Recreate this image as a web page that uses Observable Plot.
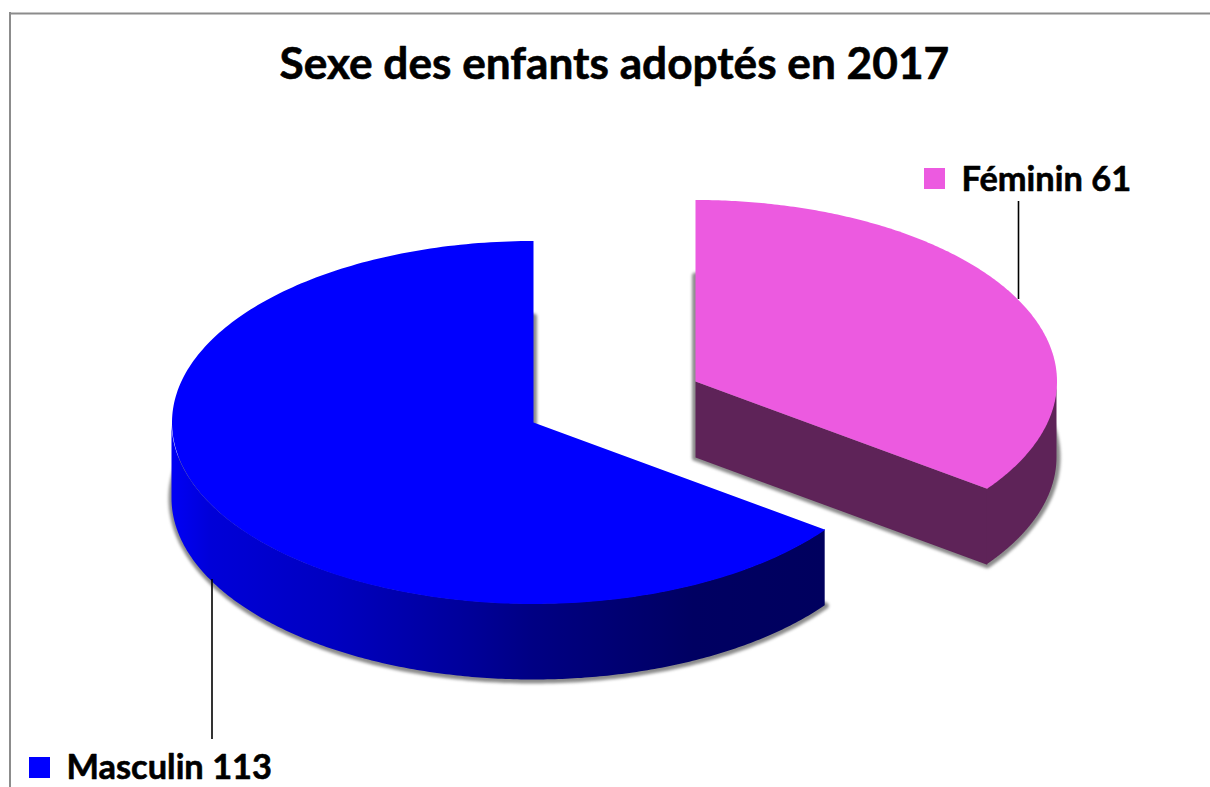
<!DOCTYPE html>
<html>
<head>
<meta charset="utf-8">
<style>
html,body{margin:0;padding:0;background:#fff;overflow:hidden}
svg{display:block}
</style>
<script src="https://cdn.jsdelivr.net/npm/d3@7"></script>
<script src="https://cdn.jsdelivr.net/npm/@observablehq/plot@0.6"></script>
</head>
<body>
<div id="chart"></div>
<script>
// Data
const categories = ["Féminin", "Masculin"];
const counts = [61, 113];
const chartTitle = "Sexe des enfants adoptés en 2017";

// Styles and layout
const W = 1210, H = 787;
const FONT = "Lato, 'Noto Sans', sans-serif";
const RX = 361.5, RY = 181.5, DEPTH = 76;
const pink = "#ec5ae0", purple = "#5e2358", blue = "#0000ff";
const centres = {"Féminin": [695, 381], "Masculin": [533, 422]};

const total = d3.sum(counts);
const split = 2 * Math.PI * counts[0] / total;
const at = ([cx, cy], a, dy = 0) => ({x: cx + RX * Math.sin(a), y: cy - RY * Math.cos(a) + dy});
const sweep = (a0, a1, n = 240) => d3.range(n + 1).map(i => a0 + (a1 - a0) * i / n);
const wedge = (c, a0, a1, dy = 0) => [{x: c[0], y: c[1] + dy}, ...sweep(a0, a1).map(a => at(c, a, dy)), {x: c[0], y: c[1] + dy}];
const wall = (c, a0, a1) => sweep(a0, a1).map(a => {
  const p = at(c, a);
  return {x: p.x, y1: p.y, y2: p.y + DEPTH};
});

const cF = centres["Féminin"], cM = centres["Masculin"];
const edgeF = at(cF, split);

const gradientStops = [[0, "#0000f5"], [0.06, "#0000d8"], [0.25, "#0000c0"], [0.45, "#00009a"], [0.55, "#000084"], [0.8, "#000062"], [1, "#00005e"]];
const defs = () => {
  const d = d3.create("svg:defs");
  const g = d.append("linearGradient").attr("id", "wallBlue").attr("x1", 0).attr("x2", 1).attr("y1", 0).attr("y2", 0);
  gradientStops.forEach(([o, c]) => g.append("stop").attr("offset", o).attr("stop-color", c));
  return d.node();
};

const shadow = (c, a0, a1) => Plot.line(wedge(c, a0, a1, DEPTH), {
  x: "x", y: "y", fill: "#8c8c8c", stroke: "#8c8c8c", strokeWidth: 7, strokeOpacity: 1, fillOpacity: 1,
  strokeLinejoin: "round", imageFilter: "blur(1.6px)"
});
const label = (text, dx, dy, fontSize) => Plot.text([text], {
  text: d => d, frameAnchor: "top-left", dx, dy, fontSize, fontWeight: 700, fontFamily: FONT,
  fill: "#000", stroke: "#000", strokeWidth: 0.6, lineAnchor: "top"
});

const chart = Plot.plot({
  width: W, height: H, margin: 0,
  x: {domain: [0, W], range: [0, W], axis: null},
  y: {domain: [0, H], range: [0, H], axis: null},
  style: {background: "#fff"},
  marks: [
    defs,
    // outer frame
    Plot.ruleX([9.5], {y1: 12, y2: H, stroke: "#8c8c8c", strokeWidth: 2}),
    Plot.ruleY([13], {x1: 9, x2: W, stroke: "#8c8c8c", strokeWidth: 2}),
    // soft shadows under the extruded slices
    shadow(cM, split, 2 * Math.PI),
    shadow(cF, 0, split),
    // Masculin slice
    Plot.areaY(wall(cM, split, 1.5 * Math.PI), {x: "x", y1: "y1", y2: "y2", fill: "url(#wallBlue)"}),
    Plot.line(wedge(cM, split, 2 * Math.PI), {x: "x", y: "y", fill: blue, stroke: null}),
    // Féminin slice
    Plot.line([
      {x: cF[0], y: cF[1]}, edgeF, {x: edgeF.x, y: edgeF.y + DEPTH}, {x: cF[0], y: cF[1] + DEPTH}
    ], {x: "x", y: "y", fill: purple, stroke: null}),
    Plot.areaY(wall(cF, Math.PI / 2, split), {x: "x", y1: "y1", y2: "y2", fill: purple}),
    Plot.line(wedge(cF, 0, split), {x: "x", y: "y", fill: pink, stroke: null}),
    // leaders
    Plot.ruleX([1018], {y1: 201, y2: 299, stroke: "#000", strokeWidth: 1.6}),
    Plot.ruleX([211.5], {y1: 579, y2: 739, stroke: "#000", strokeWidth: 1.6}),
    // legend swatches
    Plot.rect([0], {x1: [924], x2: [945], y1: [168], y2: [189], fill: pink}),
    Plot.rect([0], {x1: [29], x2: [50], y1: [757], y2: [778], fill: blue}),
    // texts
    label(`${categories[0]} ${counts[0]}`, 961, 166, 34.4),
    label(`${categories[1]} ${counts[1]}`, 66, 754, 34.4),
    label(chartTitle, 279, 47, 44.2)
  ]
});
document.getElementById("chart").append(chart);
</script>
</body>
</html>
